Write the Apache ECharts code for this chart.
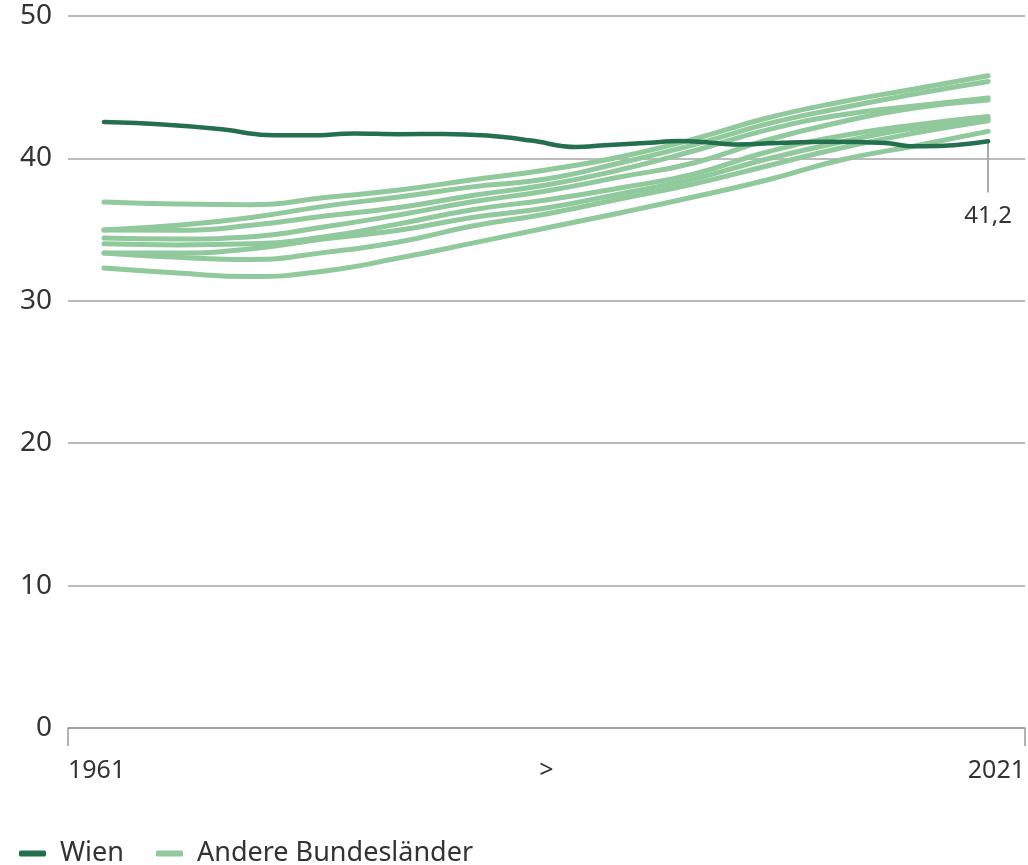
<!DOCTYPE html>
<html>
<head>
<meta charset="utf-8">
<script src="https://cdn.jsdelivr.net/npm/echarts@6/dist/echarts.min.js"></script>
<style>
  html, body { margin: 0; padding: 0; background: #fff; }
  #chart { width: 1028px; height: 865px; }
</style>
</head>
<body>
<div id="chart"></div>
<script>
// ---- Data ----
const wienYears = [1961, 1965, 1969, 1972, 1975, 1978, 1981, 1984, 1987, 1990, 1993, 1995, 1998, 2000, 2002, 2004, 2007, 2010, 2014, 2016, 2018, 2021];
const wienValues = [42.55, 42.38, 42.05, 41.65, 41.62, 41.75, 41.7, 41.72, 41.6, 41.25, 40.8, 40.92, 41.1, 41.22, 41.12, 40.98, 41.1, 41.17, 41.08, 40.85, 40.88, 41.2];

const otherYears = [1961, 1966, 1971, 1976, 1981, 1986, 1991, 1996, 2001, 2006, 2011, 2016, 2021];
const land1 = [36.94, 36.8, 36.75, 37.25, 37.78, 38.5, 39.19, 40.1, 41.35, 42.84, 43.96, 44.87, 45.8];
const land2 = [34.97, 35.3, 35.85, 36.65, 37.29, 38.0, 38.55, 39.68, 40.95, 42.42, 43.54, 44.52, 45.4];
const land3 = [34.97, 34.95, 35.3, 35.95, 36.55, 37.4, 38.13, 39.19, 40.52, 42.0, 43.05, 43.68, 44.25];
const land4 = [34.41, 34.34, 34.5, 35.2, 36.03, 36.95, 37.71, 38.69, 39.68, 41.29, 42.56, 43.54, 44.1];
const land5 = [34.0, 33.92, 34.0, 34.5, 35.4, 36.4, 37.08, 37.92, 38.9, 40.45, 41.57, 42.35, 42.95];
const land6 = [33.36, 33.35, 33.65, 34.35, 34.95, 35.85, 36.52, 37.5, 38.55, 39.96, 41.15, 42.13, 42.8];
const land7 = [33.36, 33.05, 32.9, 33.4, 34.13, 35.25, 36.1, 37.15, 38.2, 39.47, 40.73, 41.78, 42.65];
const land8 = [32.3, 31.95, 31.7, 32.1, 33.0, 34.05, 35.11, 36.17, 37.29, 38.48, 39.89, 40.87, 41.9];
const otherLands = [land1, land2, land3, land4, land5, land6, land7, land8];

const yTicks = [0, 10, 20, 30, 40, 50];
const firstYearLabel = '1961';
const lastYearLabel = '2021';
const middleLabel = '>';
const wienName = 'Wien';
const otherName = 'Andere Bundesländer';

// ---- Chart ----
const xMin = 1958.56, xMax = 2023.5;
const xMid = (xMin + xMax) / 2;
const FONT = '"Noto Sans", "Open Sans", sans-serif';
const TEXT = '#333333';
const LIGHT = '#90c99c';
const DARK = '#24704e';

const pairs = (xs, ys) => xs.map((x, i) => [x, ys[i]]);

const series = otherLands.map(vals => ({
  name: otherName,
  type: 'line',
  data: pairs(otherYears, vals),
  smooth: 0.5,
  showSymbol: false,
  symbol: 'none',
  color: LIGHT,
  lineStyle: { color: LIGHT, width: 5, cap: 'round' },
  z: 2,
  silent: true
}));

const lastWien = wienValues[wienValues.length - 1];
const lastYear = wienYears[wienYears.length - 1];
series.push({
  name: wienName,
  type: 'line',
  data: pairs(wienYears, wienValues),
  smooth: 0.4,
  showSymbol: false,
  symbol: 'none',
  color: DARK,
  lineStyle: { color: DARK, width: 4.5, cap: 'round' },
  z: 5,
  silent: true,
  markLine: {
    silent: true,
    symbol: ['none', 'none'],
    lineStyle: { color: '#aaaaaa', width: 2, type: 'solid' },
    label: {
      show: true,
      position: 'end',
      distance: 12,
      formatter: () => lastWien.toFixed(1).replace('.', ','),
      color: TEXT,
      fontFamily: FONT,
      fontSize: 24
    },
    data: [[{ coord: [lastYear, lastWien] }, { coord: [lastYear, lastWien - 3.6] }]]
  }
});

const chart = echarts.init(document.getElementById('chart'), null, { renderer: 'canvas' });
chart.setOption({
  animation: false,
  backgroundColor: '#ffffff',
  textStyle: { fontFamily: FONT },
  grid: { left: 68, right: 2, top: 16, bottom: 137, containLabel: false },
  legend: {
    left: 14,
    top: 835,
    icon: 'roundRect',
    itemWidth: 27,
    itemHeight: 6,
    itemGap: 32,
    data: [wienName, otherName],
    textStyle: { color: TEXT, fontFamily: FONT, fontSize: 27, padding: [0, 0, 0, 9] }
  },
  xAxis: {
    type: 'value',
    min: xMin,
    max: xMax,
    splitLine: { show: false },
    axisLine: { show: true, lineStyle: { color: '#999999', width: 1.5 } },
    axisTick: { show: true, customValues: [xMin, xMax], length: 18, lineStyle: { color: '#999999', width: 1.5 } },
    axisLabel: {
      customValues: [xMin, xMid, xMax],
      formatter: v => (Math.abs(v - xMin) < 0.01 ? firstYearLabel : Math.abs(v - xMax) < 0.01 ? lastYearLabel : middleLabel),
      alignMinLabel: 'left',
      alignMaxLabel: 'right',
      margin: 30,
      color: TEXT,
      fontFamily: FONT,
      fontSize: 25
    }
  },
  yAxis: {
    type: 'value',
    min: yTicks[0],
    max: yTicks[yTicks.length - 1],
    interval: yTicks[1] - yTicks[0],
    axisLine: { show: false },
    axisTick: { show: false },
    axisLabel: { margin: 16, color: TEXT, fontFamily: FONT, fontSize: 28 },
    splitLine: { show: true, lineStyle: { color: '#bbbbbb', width: 2 } }
  },
  series
});
</script>
</body>
</html>
